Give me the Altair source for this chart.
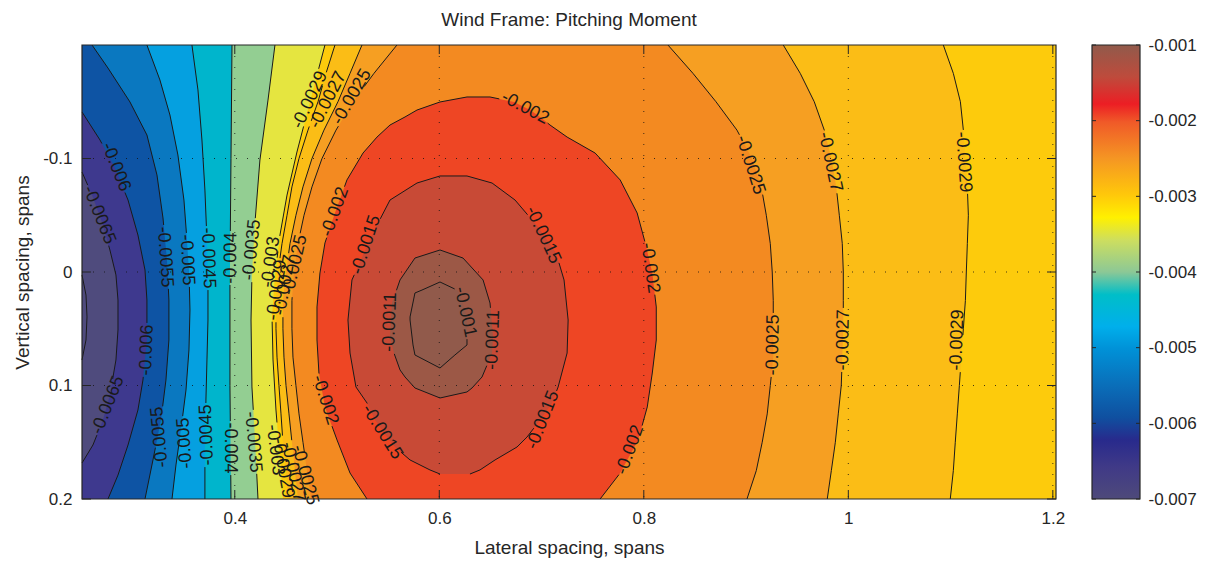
import math
import altair as alt
import pandas as pd

FONT = "Liberation Sans"
INK = "#262626"

# Panel extent (data units) and plot-area size in pixels
X_MIN, X_MAX = 0.2506, 1.2031
Y_MIN, Y_MAX = -0.2, 0.2
W, H = 974, 454
LABEL_SIZE = 18

# ---------------------------------------------------------------------------
# Contour lines of the pitching-moment coefficient
# ---------------------------------------------------------------------------
# Contours on the left that only have one branch: lateral position x at height y
c0070_y = [0.0026, 0.0203, 0.0396, 0.0599, 0.0775]
c0070_x = [0.2506, 0.2545, 0.2555, 0.2545, 0.2506]

c0065_y = [-0.0881, -0.0678, -0.0441, -0.0194, 0.0026, 0.0247, 0.0511, 0.0775, 0.1084, 0.1304, 0.1524, 0.1683]
c0065_x = [0.2506, 0.2604, 0.2701, 0.2779, 0.2838, 0.2858, 0.2858, 0.2838, 0.2779, 0.2711, 0.2613, 0.2506]

c0060_y = [-0.1410, -0.1163, -0.0916, -0.0634, -0.0326, -0.0018, 0.0247, 0.0599, 0.0952, 0.1216, 0.1524, 0.1789, 0.2]
c0060_x = [0.2506, 0.2682, 0.2828, 0.2956, 0.3053, 0.3122, 0.3141, 0.3141, 0.3102, 0.3053, 0.2956, 0.2858, 0.2760]

c0055_y = [-0.2, -0.1797, -0.1498, -0.1207, -0.0855, -0.0476, -0.0106, 0.0247, 0.0599, 0.0952, 0.1304, 0.1656, 0.2]
c0055_x = [0.2604, 0.2760, 0.2975, 0.3141, 0.3239, 0.3298, 0.3337, 0.3356, 0.3356, 0.3327, 0.3278, 0.3200, 0.3122]

c0050_y = [-0.2, -0.1692, -0.1383, -0.1031, -0.0634, -0.0282, -0.0018, 0.0335, 0.0687, 0.1040, 0.1392, 0.1700, 0.2]
c0050_x = [0.3141, 0.3268, 0.3366, 0.3444, 0.3503, 0.3532, 0.3552, 0.3562, 0.3552, 0.3523, 0.3473, 0.3425, 0.3386]

c0045_y = [-0.2, -0.1604, -0.1163, -0.0722, -0.0282, 0.0070, 0.0423, 0.0775, 0.1128, 0.1568, 0.2]
c0045_x = [0.3581, 0.3640, 0.3679, 0.3708, 0.3728, 0.3738, 0.3738, 0.3728, 0.3718, 0.3708, 0.3708]

c0040_y = [-0.2, -0.1, 0.0, 0.1, 0.2]
c0040_x = [0.3973, 0.3963, 0.3953, 0.3953, 0.3963]

c0035_y = [-0.2, -0.1515, -0.0987, -0.0441, 0.0026, 0.0423, 0.1013, 0.1480, 0.2]
c0035_x = [0.4393, 0.4325, 0.4246, 0.4198, 0.4168, 0.4159, 0.4168, 0.4198, 0.4227]

c0030_y = [-0.2, -0.1498, -0.1057, -0.0678, -0.0326, 0.0026, 0.0388, 0.0775, 0.1216, 0.1656, 0.2]
c0030_x = [0.4882, 0.4735, 0.4608, 0.4511, 0.4442, 0.4393, 0.4364, 0.4374, 0.4403, 0.4442, 0.4471]

# Contours with a left and a right branch, read at common heights
y_stations = [-0.2, -0.175, -0.15, -0.125, -0.1, -0.075, -0.05, -0.025, 0.0,
              0.025, 0.05, 0.075, 0.1, 0.125, 0.15, 0.175, 0.2]
c0029_xl = [0.4980, 0.4892, 0.4814, 0.4716, 0.4628, 0.4559, 0.4511, 0.4462, 0.4423,
            0.4403, 0.4403, 0.4413, 0.4432, 0.4452, 0.4471, 0.4501, 0.4520]
c0029_xr = [1.0929, 1.1027, 1.1096, 1.1125, 1.1145, 1.1164, 1.1174, 1.1164, 1.1154,
            1.1145, 1.1125, 1.1105, 1.1086, 1.1066, 1.1046, 1.1027, 1.0997]
c0027_xl = [0.5244, 0.5127, 0.5009, 0.4872, 0.4755, 0.4667, 0.4598, 0.4540, 0.4501,
            0.4471, 0.4471, 0.4481, 0.4501, 0.4530, 0.4559, 0.4589, 0.4618]
c0027_xr = [0.9364, 0.9530, 0.9667, 0.9765, 0.9834, 0.9882, 0.9912, 0.9941, 0.9951,
            0.9951, 0.9951, 0.9941, 0.9931, 0.9902, 0.9873, 0.9834, 0.9794]
c0025_xl = [0.5586, 0.5361, 0.5156, 0.4990, 0.4853, 0.4755, 0.4677, 0.4618, 0.4579,
            0.4559, 0.4559, 0.4569, 0.4598, 0.4628, 0.4667, 0.4706, 0.4745]
c0025_xr = [0.8236, 0.8481, 0.8706, 0.8911, 0.9058, 0.9149, 0.9198, 0.9237, 0.9256,
            0.9266, 0.9266, 0.9266, 0.9237, 0.9207, 0.9158, 0.9100, 0.9009]

# Contours around the peak (left and right branch at each height)
c0020_y = [-0.1542, -0.1498, -0.1427, -0.1366, -0.1295, -0.1189, -0.1048, -0.0811, -0.0520,
           -0.0256, 0.0009, 0.0308, 0.0599, 0.0890, 0.1189, 0.1480, 0.1771, 0.2]
c0020_xl = [0.6271, 0.6007, 0.5782, 0.5665, 0.5518, 0.5391, 0.5254, 0.5097, 0.4980,
            0.4882, 0.4833, 0.4804, 0.4804, 0.4823, 0.4882, 0.5000, 0.5127, 0.5293]
c0020_xr = [0.6496, 0.6731, 0.6888, 0.6986, 0.7083, 0.7250, 0.7524, 0.7769, 0.7935,
            0.8014, 0.8083, 0.8122, 0.8122, 0.8083, 0.8034, 0.7945, 0.7769, 0.7573]

c0015_y = [-0.0846, -0.0784, -0.0634, -0.0396, -0.0167, 0.0070, 0.0423, 0.0714, 0.1013,
           0.1154, 0.1304, 0.1454, 0.1542, 0.1656, 0.1744, 0.1780]
c0015_xl = [0.6007, 0.5782, 0.5518, 0.5381, 0.5264, 0.5146, 0.5107, 0.5127, 0.5185,
            0.5293, 0.5371, 0.5489, 0.5567, 0.5714, 0.5909, 0.6007]
c0015_xr = [0.6271, 0.6516, 0.6741, 0.6966, 0.7142, 0.7220, 0.7260, 0.7250, 0.7162,
            0.7103, 0.6986, 0.6858, 0.6760, 0.6545, 0.6398, 0.6300]

c0011_y = [-0.0194, -0.0123, 0.0070, 0.0273, 0.0573, 0.0714, 0.0863, 0.0925, 0.1022, 0.1057, 0.1110]
c0011_xl = [0.6007, 0.5762, 0.5616, 0.5538, 0.5518, 0.5557, 0.5616, 0.5665, 0.5762, 0.5860, 0.6007]
c0011_xr = [0.6007, 0.6232, 0.6428, 0.6496, 0.6526, 0.6516, 0.6447, 0.6418, 0.6320, 0.6271, 0.6007]

c0010_y = [0.0088, 0.0159, 0.0185, 0.0396, 0.0423, 0.0643, 0.0731, 0.0846]
c0010_xl = [0.6007, 0.5831, 0.5762, 0.5714, 0.5714, 0.5743, 0.5762, 0.6007]
c0010_xr = [0.6007, 0.6173, 0.6193, 0.6271, 0.6271, 0.6271, 0.6153, 0.6007]

# Inline contour labels
lab_text = ["-0.006", "-0.0065", "-0.0065", "-0.006",
            "-0.0055", "-0.005", "-0.0045", "-0.004", "-0.0035", "-0.003", "-0.0029", "-0.0027", "-0.0025",
            "-0.0055", "-0.005", "-0.0045", "-0.004", "-0.0035", "-0.003", "-0.0029", "-0.0027", "-0.0025",
            "-0.0029", "-0.0027", "-0.0025",
            "-0.002", "-0.002", "-0.002", "-0.002", "-0.002",
            "-0.0015", "-0.0015", "-0.0015", "-0.0015",
            "-0.0011", "-0.0011", "-0.001",
            "-0.0025", "-0.0025", "-0.0027", "-0.0027", "-0.0029", "-0.0029"]
lab_x = [0.2838, 0.2672, 0.2760, 0.3141,
         0.3317, 0.3532, 0.3738, 0.3963, 0.4168, 0.4354, 0.4413, 0.4491, 0.4589,
         0.3268, 0.3513, 0.3728, 0.3953, 0.4178, 0.4393, 0.4471, 0.4569, 0.4686,
         0.4735, 0.4911, 0.5146,
         0.4980, 0.6839, 0.8061, 0.7866, 0.4882,
         0.5284, 0.7014, 0.5440, 0.7014,
         0.5518, 0.6526, 0.6252,
         0.9041, 0.9266, 0.9821, 0.9951, 1.1125, 1.1066]
lab_y = [-0.0925, -0.0502, 0.1172, 0.0687,
         -0.0132, -0.0106, -0.0123, -0.0123, -0.0194, -0.0088, 0.0159, 0.0115, -0.0062,
         0.1454, 0.1507, 0.1436, 0.1551, 0.1498, 0.1568, 0.1727, 0.1762, 0.1789,
         -0.1515, -0.1515, -0.1542,
         -0.0529, -0.1445, -0.0035, 0.1568, 0.1128,
         -0.0238, -0.0326, 0.1410, 0.1304,
         0.0441, 0.0599, 0.0352,
         -0.0943, 0.0643, -0.0969, 0.0599, -0.0969, 0.0599]
lab_angle = [68, 68, 292, 272,
             86, 87, 88, 271, 276, 278, 278, 280, 283,
             265, 266, 268, 90, 85, 83, 80, 78, 75,
             295, 297, 300,
             290, 28, 82, 290, 72,
             288, 65, 58, 292,
             272, 272, 78,
             72, 271, 78, 271, 86, 272]

# Axis ticks
x_ticks = [0.4, 0.6, 0.8, 1.0, 1.2]
y_ticks = [-0.1, 0.0, 0.1, 0.2]
cbar_ticks = [-0.007, -0.006, -0.005, -0.004, -0.003, -0.002, -0.001]

# Fill colours of the contour bands
COL_BASE = "#fdcb0c"          # -0.003 .. -0.0029
two_sided_fills = [
    ("c0029", "#fbbd16"),      # -0.0029 .. -0.0027
    ("c0027", "#f69f22"),      # -0.0027 .. -0.0025
    ("c0025", "#f38a21"),      # -0.0025 .. -0.002
    ("c0020", "#ee4624"),      # -0.002 .. -0.0015
    ("c0015", "#c84a36"),      # -0.0015 .. -0.0011
    ("c0011", "#9c5846"),      # -0.0011 .. -0.001
    ("c0010", "#915a4b"),      # above -0.001
]
left_fills = [
    (c0030_y, c0030_x, "#e5e540"),   # -0.0035 .. -0.003
    (c0035_y, c0035_x, "#93ce92"),   # -0.004 .. -0.0035
    (c0040_y, c0040_x, "#00b5cc"),   # -0.0045 .. -0.004
    (c0045_y, c0045_x, "#05a0e0"),   # -0.005 .. -0.0045
    (c0050_y, c0050_x, "#0a78c0"),   # -0.0055 .. -0.005
    (c0055_y, c0055_x, "#0e54a4"),   # -0.006 .. -0.0055
    (c0060_y, c0060_x, "#3e398e"),   # -0.0065 .. -0.006
    (c0065_y, c0065_x, "#4f4b7d"),   # below -0.0065
]

# Colour-bar gradient (value, colour)
cmap_stops = [(-0.007, "#4e4a7a"), (-0.00658, "#403a87"), (-0.00622, "#282a8c"),
              (-0.00592, "#0f50a0"), (-0.0055, "#0a6eb9"), (-0.00502, "#0091d7"),
              (-0.00472, "#00afeb"), (-0.0043, "#00bec8"), (-0.004, "#8cc896"),
              (-0.00358, "#cdde5f"), (-0.00328, "#fff000"), (-0.00298, "#ffc80a"),
              (-0.0025, "#f59623"), (-0.00202, "#f05a28"), (-0.00178, "#ec1e24"),
              (-0.00142, "#be4b3c"), (-0.001, "#915a4b")]

# ---------------------------------------------------------------------------
# Tables
# ---------------------------------------------------------------------------
two_sided = {
    "c0029": (y_stations, c0029_xl, c0029_xr),
    "c0027": (y_stations, c0027_xl, c0027_xr),
    "c0025": (y_stations, c0025_xl, c0025_xr),
    "c0020": (c0020_y, c0020_xl, c0020_xr),
    "c0015": (c0015_y, c0015_xl, c0015_xr),
    "c0011": (c0011_y, c0011_xl, c0011_xr),
    "c0010": (c0010_y, c0010_xl, c0010_xr),
}

paths = []
for ys, xs in [(c0070_y, c0070_x), (c0065_y, c0065_x), (c0060_y, c0060_x),
               (c0055_y, c0055_x), (c0050_y, c0050_x), (c0045_y, c0045_x),
               (c0040_y, c0040_x), (c0035_y, c0035_x), (c0030_y, c0030_x)]:
    paths.append(list(zip(xs, ys)))
for name in ["c0029", "c0027", "c0025"]:
    ys, xl, xr = two_sided[name]
    paths.append(list(zip(xl, ys)))
    paths.append(list(zip(xr, ys)))
for name in ["c0020", "c0015", "c0011", "c0010"]:
    ys, xl, xr = two_sided[name]
    # up the left branch, then down the right branch
    paths.append(list(zip(reversed(xl), reversed(ys))) + list(zip(xr, ys)))


# --- break the contour lines where a label sits on them (screen geometry) ---
def to_px(p):
    return ((p[0] - X_MIN) / (X_MAX - X_MIN) * W, (p[1] - Y_MIN) / (Y_MAX - Y_MIN) * H)


def to_data(q):
    return (X_MIN + q[0] / W * (X_MAX - X_MIN), Y_MIN + q[1] / H * (Y_MAX - Y_MIN))


def text_width(s, size):
    em = {"-": 0.333, ".": 0.278}
    return sum(em.get(ch, 0.556) for ch in s) * size


def clip_interval(p0, p1, box):
    cx, cy, dx, dy, half_l, half_h = box
    nx, ny = -dy, dx
    t0, t1 = 0.0, 1.0
    for (ax, ay, half) in [(dx, dy, half_l), (nx, ny, half_h)]:
        u0 = (p0[0] - cx) * ax + (p0[1] - cy) * ay
        du = (p1[0] - p0[0]) * ax + (p1[1] - p0[1]) * ay
        if abs(du) < 1e-12:
            if abs(u0) > half:
                return None
            continue
        a, b = (-half - u0) / du, (half - u0) / du
        lo, hi = min(a, b), max(a, b)
        t0, t1 = max(t0, lo), min(t1, hi)
        if t0 >= t1:
            return None
    return t0, t1


def cut_polyline(poly, box):
    pieces, cur, open_end = [], None, False
    for p0, p1 in zip(poly[:-1], poly[1:]):
        iv = clip_interval(p0, p1, box)
        keep = [(0.0, 1.0)] if iv is None else [(s, e) for s, e in [(0.0, iv[0]), (iv[1], 1.0)] if e - s > 1e-9]
        for s, e in keep:
            ps = (p0[0] + s * (p1[0] - p0[0]), p0[1] + s * (p1[1] - p0[1]))
            pe = (p0[0] + e * (p1[0] - p0[0]), p0[1] + e * (p1[1] - p0[1]))
            if cur is not None and open_end and s == 0.0:
                cur.append(pe)
            else:
                if cur and len(cur) > 1:
                    pieces.append(cur)
                cur = [ps, pe]
            open_end = e == 1.0
        if not keep or keep[-1][1] < 1.0:
            open_end = False
    if cur and len(cur) > 1:
        pieces.append(cur)
    return pieces


boxes = []
for t, lx, ly, ang in zip(lab_text, lab_x, lab_y, lab_angle):
    cx, cy = to_px((lx, ly))
    r = math.radians(ang)
    boxes.append((cx, cy, math.cos(r), math.sin(r),
                  text_width(t, LABEL_SIZE) / 2 + 1.5, 0.3 * LABEL_SIZE))

pieces = [[to_px(p) for p in path] for path in paths]
for box in boxes:
    nxt = []
    for poly in pieces:
        nxt += cut_polyline(poly, box)
    pieces = nxt

rows = []
for k, poly in enumerate(pieces):
    for i, q in enumerate(poly):
        xv, yv = to_data(q)
        rows.append({"seg": k, "ord": i, "x": xv, "y": yv})
lines_df = pd.DataFrame(rows)

labels_df = pd.DataFrame({"t": lab_text, "x": lab_x, "y": lab_y, "a": lab_angle})

# ---------------------------------------------------------------------------
# Encodings
# ---------------------------------------------------------------------------
x_scale = alt.Scale(domain=[X_MIN, X_MAX], nice=False, zero=False)
y_scale = alt.Scale(domain=[Y_MIN, Y_MAX], reverse=True, nice=False, zero=False)
x_axis = alt.Axis(values=x_ticks, title="Lateral spacing, spans", grid=False, ticks=False,
                  tickSize=0, domain=False, labelExpr="'' + datum.value", labelFont=FONT,
                  labelFontSize=17, labelColor=INK, labelPadding=11, labelFlush=False,
                  labelOverlap=False, titleFont=FONT, titleFontSize=19,
                  titleFontWeight="normal", titleColor=INK, titlePadding=12)
y_axis = alt.Axis(values=y_ticks, title="Vertical spacing, spans", grid=False, ticks=False,
                  tickSize=0, domain=False, labelExpr="'' + datum.value", labelFont=FONT,
                  labelFontSize=17, labelColor=INK, labelPadding=10, labelFlush=False,
                  labelOverlap=False, titleFont=FONT, titleFontSize=19,
                  titleFontWeight="normal", titleColor=INK, titlePadding=10)


def X(field):
    return alt.X(field, type="quantitative", scale=x_scale, axis=x_axis)


def Y(field):
    return alt.Y(field, type="quantitative", scale=y_scale, axis=y_axis)


layers = []

# background band
base_df = pd.DataFrame({"x": [X_MIN], "y": [Y_MIN]})
layers.append(
    alt.Chart(base_df).mark_rect(color=COL_BASE).encode(
        x=alt.value(0), x2=alt.value(W), y=alt.value(0), y2=alt.value(H))
)

# bands enclosed by two branches
for name, col in two_sided_fills:
    ys, xl, xr = two_sided[name]
    df = pd.DataFrame({"y": ys, "xl": xl, "xr": xr})
    layers.append(
        alt.Chart(df).mark_area(orient="horizontal", color=col, interpolate="linear").encode(
            y=Y("y"), x=alt.X("xl", type="quantitative", scale=x_scale, axis=x_axis, stack=None),
            x2="xr")
    )

# bands to the left of the one-branch contours
for ys, xs, col in left_fills:
    df = pd.DataFrame({"y": ys, "x0": [X_MIN] * len(ys), "x1": xs})
    layers.append(
        alt.Chart(df).mark_area(orient="horizontal", color=col, interpolate="linear").encode(
            y=Y("y"), x=alt.X("x0", type="quantitative", scale=x_scale, axis=x_axis, stack=None),
            x2="x1")
    )

# dotted grid
gx_df = pd.DataFrame({"gx": x_ticks})
gy_df = pd.DataFrame({"gy": y_ticks[:-1]})
layers.append(
    alt.Chart(gx_df).mark_rule(color="#111111", strokeWidth=1, strokeDash=[1, 10], opacity=0.8).encode(
        x=X("gx"), y=alt.value(0), y2=alt.value(H))
)
layers.append(
    alt.Chart(gy_df).mark_rule(color="#111111", strokeWidth=1, strokeDash=[1, 10], opacity=0.8).encode(
        y=Y("gy"), x=alt.value(0), x2=alt.value(W))
)

# contour lines
layers.append(
    alt.Chart(lines_df).mark_line(color="#1a1a1a", strokeWidth=1, interpolate="linear").encode(
        x=X("x"), y=Y("y"), detail="seg:N", order="ord:Q")
)

# contour labels
layers.append(
    alt.Chart(labels_df).mark_text(font=FONT, fontSize=LABEL_SIZE, color="#1a1a1a",
                                   align="center", baseline="middle").encode(
        x=X("x"), y=Y("y"), text="t:N", angle=alt.Angle("a:Q", scale=None))
)

# inward tick marks on all four sides
xt_df = pd.DataFrame({"v": x_ticks})
yt_df = pd.DataFrame({"v": y_ticks})
tick = dict(color=INK, strokeWidth=1)
layers += [
    alt.Chart(xt_df).mark_rule(**tick).encode(x=X("v"), y=alt.value(H), y2=alt.value(H - 9)),
    alt.Chart(xt_df).mark_rule(**tick).encode(x=X("v"), y=alt.value(0), y2=alt.value(9)),
    alt.Chart(yt_df).mark_rule(**tick).encode(y=Y("v"), x=alt.value(0), x2=alt.value(9)),
    alt.Chart(yt_df).mark_rule(**tick).encode(y=Y("v"), x=alt.value(W), x2=alt.value(W - 9)),
]

# frame
layers.append(
    alt.Chart(base_df).mark_rect(fill=None, filled=False, stroke=INK, strokeWidth=1.2).encode(
        x=alt.value(0), x2=alt.value(W), y=alt.value(0), y2=alt.value(H))
)

main = alt.layer(*layers)

# ---------------------------------------------------------------------------
# Colour bar
# ---------------------------------------------------------------------------
CB_L, CB_R = W + 36, W + 84
cb_scale = alt.Scale(domain=[-0.007, -0.001], nice=False, zero=False)
cb_axis = alt.Axis(orient="right", offset=CB_R - W, values=cbar_ticks, title=None,
                   grid=False, ticks=False, tickSize=0, domain=False,
                   labelExpr="'' + datum.value", labelFont=FONT, labelFontSize=17,
                   labelColor=INK, labelPadding=8, labelFlush=False, labelOverlap=False)
gradient = alt.LinearGradient(
    gradient="linear",
    stops=[alt.GradientStop(color=c, offset=(v + 0.007) / 0.006) for v, c in cmap_stops],
    x1=0, x2=0, y1=1, y2=0)
cb_df = pd.DataFrame({"lo": [-0.007], "hi": [-0.001]})
cbt_df = pd.DataFrame({"v": cbar_ticks})

cbar = alt.layer(
    alt.Chart(cb_df).mark_rect(color=gradient).encode(
        x=alt.value(CB_L), x2=alt.value(CB_R),
        y=alt.Y("lo:Q", scale=cb_scale, axis=cb_axis), y2="hi:Q"),
    alt.Chart(cbt_df).mark_rule(color=INK, strokeWidth=1).encode(
        x=alt.value(CB_L), x2=alt.value(CB_L + 4),
        y=alt.Y("v:Q", scale=cb_scale, axis=cb_axis)),
    alt.Chart(cbt_df).mark_rule(color=INK, strokeWidth=1).encode(
        x=alt.value(CB_R - 4), x2=alt.value(CB_R),
        y=alt.Y("v:Q", scale=cb_scale, axis=cb_axis)),
    alt.Chart(cb_df).mark_rect(fill=None, filled=False, stroke=INK, strokeWidth=1.2).encode(
        x=alt.value(CB_L), x2=alt.value(CB_R),
        y=alt.Y("lo:Q", scale=cb_scale, axis=cb_axis), y2="hi:Q"),
)

chart = (
    alt.layer(main, cbar)
    .resolve_scale(y="independent")
    .resolve_axis(y="independent")
    .properties(
        width=W, height=H,
        title=alt.Title("Wind Frame: Pitching Moment", font=FONT, fontSize=19,
                        fontWeight="normal", color=INK, offset=6, anchor="middle"),
        autosize=alt.AutoSizeParams(type="none"),
        padding={"left": 82, "top": 45, "right": 158, "bottom": 65},
        background="white",
    )
    .configure_view(stroke=None)
)

chart.save("out.html", embed_options={"renderer": "svg", "actions": False})
